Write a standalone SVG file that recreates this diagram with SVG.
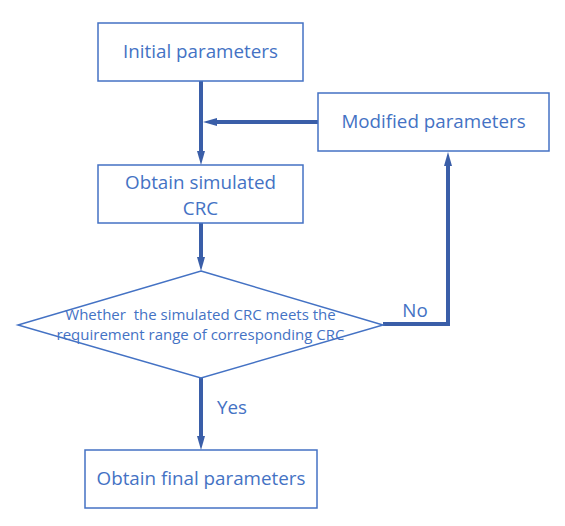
<svg xmlns="http://www.w3.org/2000/svg" width="565" height="526" viewBox="0 0 565 526">
<style>
.box{fill:#fff;stroke:#4472c4;stroke-width:1.5}
.t{font-family:"Open Sans","Liberation Sans",sans-serif;fill:#4472c4;text-anchor:middle}
.big{font-size:18.8px}
.small{font-size:15px}
.c{fill:none;stroke:#3a5ea8;stroke-width:4}
</style>
<defs>
<marker id="ah" markerWidth="14" markerHeight="8" refX="0" refY="4" orient="auto" markerUnits="userSpaceOnUse">
<path d="M0,0 L14,4 L0,8 Z" fill="#3a5ea8"/>
</marker>
</defs>
<rect width="565" height="526" fill="#fff"/>
<g id="connectors">
<line class="c" x1="201" y1="81" x2="201" y2="151" marker-end="url(#ah)"/>
<line class="c" x1="318" y1="122" x2="217" y2="122" marker-end="url(#ah)"/>
<line class="c" x1="201" y1="223" x2="201" y2="257" marker-end="url(#ah)"/>
<polyline class="c" points="383,324 448,324 448,166" marker-end="url(#ah)"/>
<line class="c" x1="201" y1="378" x2="201" y2="436" marker-end="url(#ah)"/>
<text class="t big" x="415" y="317">No</text>
<text class="t big" x="232" y="414">Yes</text>
</g>
<g id="initial">
<rect class="box" x="98" y="23" width="205" height="58"/>
<text class="t big" x="200.5" y="58">Initial parameters</text>
</g>
<g id="modified">
<rect class="box" x="318" y="93" width="231" height="58"/>
<text class="t big" x="433.5" y="128">Modified parameters</text>
</g>
<g id="simulated">
<rect class="box" x="98" y="165" width="205" height="58"/>
<text class="t big" x="200.5" y="189">Obtain simulated</text>
<text class="t big" x="200.5" y="215">CRC</text>
</g>
<g id="decision">
<polygon class="box" points="201,271 383,325 201,378 18,325"/>
<text class="t small" x="200.5" y="320" xml:space="preserve">Whether  the simulated CRC meets the</text>
<text class="t small" x="200.5" y="340">requirement range of corresponding CRC</text>
</g>
<g id="final">
<rect class="box" x="85" y="450" width="232" height="58"/>
<text class="t big" x="201" y="485">Obtain final parameters</text>
</g>
</svg>
